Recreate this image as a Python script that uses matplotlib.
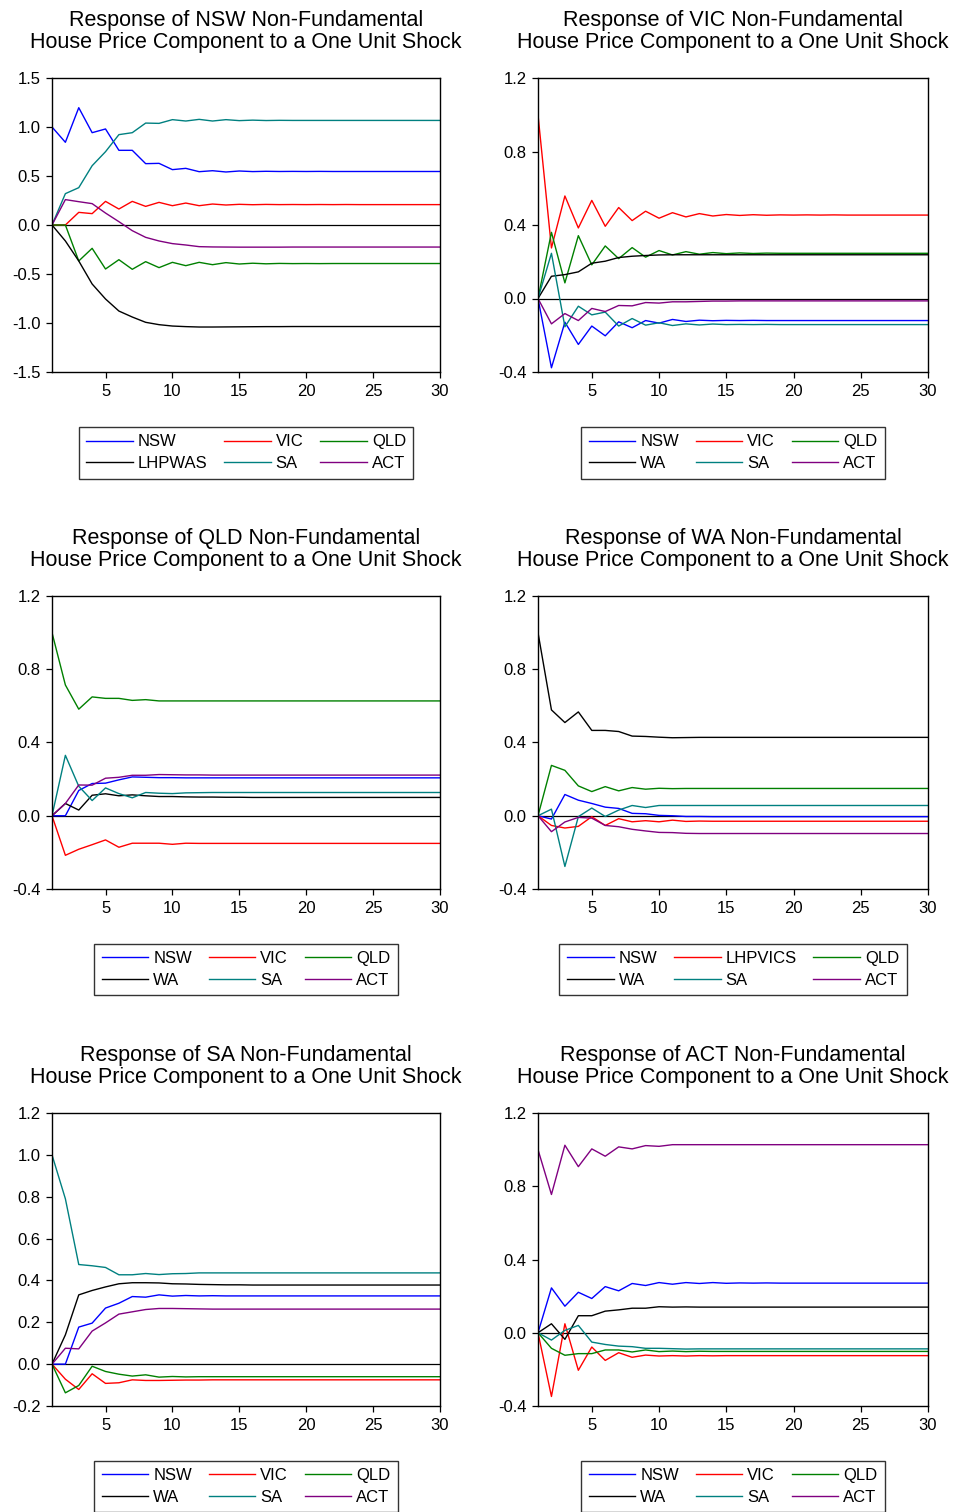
import numpy as np
import matplotlib.pyplot as plt

plt.rcParams['font.family'] = ['Liberation Sans', 'DejaVu Sans']

periods = np.arange(1, 31)

# impulse responses, one dict per shocked state (values by period 1..30)
resp_nsw = {
    'NSW':    [1.0, 0.844, 1.197, 0.942, 0.98, 0.762, 0.762, 0.626, 0.629, 0.565, 0.578, 0.544, 0.554, 0.541, 0.551,
               0.545, 0.548, 0.546, 0.547, 0.546, 0.547, 0.546, 0.546, 0.546, 0.546, 0.546, 0.546, 0.546, 0.546, 0.546],
    'VIC':    [0.0, 0.0, 0.129, 0.116, 0.241, 0.163, 0.241, 0.19, 0.231, 0.197, 0.224, 0.197, 0.214, 0.204, 0.211,
               0.207, 0.21, 0.208, 0.209, 0.208, 0.209, 0.208, 0.209, 0.208, 0.208, 0.208, 0.208, 0.208, 0.208, 0.208],
    'QLD':    [0.0, 0.0, -0.367, -0.238, -0.449, -0.354, -0.452, -0.374, -0.435, -0.381, -0.415, -0.381, -0.405, -0.384, -0.398,
               -0.39, -0.396, -0.392, -0.394, -0.393, -0.394, -0.393, -0.393, -0.393, -0.393, -0.393, -0.393, -0.393, -0.393, -0.393],
    'LHPWAS': [0.0, -0.163, -0.367, -0.602, -0.755, -0.878, -0.939, -0.993, -1.017, -1.031, -1.037, -1.041, -1.041, -1.04, -1.039,
               -1.038, -1.037, -1.037, -1.036, -1.036, -1.036, -1.036, -1.036, -1.036, -1.036, -1.036, -1.036, -1.036, -1.036, -1.036],
    'SA':     [0.0, 0.32, 0.381, 0.605, 0.748, 0.922, 0.942, 1.04, 1.037, 1.075, 1.061, 1.078, 1.061, 1.075, 1.065,
               1.07, 1.066, 1.068, 1.067, 1.067, 1.067, 1.067, 1.067, 1.067, 1.067, 1.067, 1.067, 1.067, 1.067, 1.067],
    'ACT':    [0.0, 0.259, 0.238, 0.218, 0.122, 0.034, -0.058, -0.126, -0.163, -0.19, -0.204, -0.221, -0.224, -0.225, -0.226,
               -0.226, -0.226, -0.226, -0.225, -0.225, -0.225, -0.225, -0.225, -0.225, -0.225, -0.225, -0.225, -0.225, -0.225, -0.225],
}

resp_vic = {
    'NSW': [0.0, -0.377, -0.129, -0.25, -0.15, -0.203, -0.127, -0.159, -0.12, -0.134, -0.114, -0.125, -0.118, -0.121, -0.119,
            -0.12, -0.119, -0.12, -0.12, -0.12, -0.12, -0.12, -0.12, -0.12, -0.12, -0.12, -0.12, -0.12, -0.12, -0.12],
    'VIC': [1.0, 0.275, 0.558, 0.384, 0.534, 0.393, 0.495, 0.424, 0.475, 0.437, 0.467, 0.444, 0.462, 0.449, 0.457,
            0.452, 0.456, 0.453, 0.455, 0.454, 0.455, 0.454, 0.455, 0.454, 0.454, 0.454, 0.454, 0.454, 0.454, 0.454],
    'QLD': [0.0, 0.36, 0.085, 0.342, 0.183, 0.286, 0.217, 0.277, 0.225, 0.261, 0.237, 0.255, 0.241, 0.25, 0.244,
            0.248, 0.245, 0.247, 0.246, 0.246, 0.246, 0.246, 0.246, 0.246, 0.246, 0.246, 0.246, 0.246, 0.246, 0.246],
    'WA':  [0.0, 0.121, 0.13, 0.145, 0.192, 0.203, 0.223, 0.23, 0.234, 0.237, 0.238, 0.238, 0.238, 0.238, 0.238,
            0.238, 0.238, 0.238, 0.238, 0.238, 0.238, 0.238, 0.238, 0.238, 0.238, 0.238, 0.238, 0.238, 0.238, 0.238],
    'SA':  [0.0, 0.246, -0.154, -0.042, -0.089, -0.074, -0.15, -0.109, -0.145, -0.132, -0.147, -0.138, -0.144, -0.139, -0.142,
            -0.141, -0.142, -0.141, -0.142, -0.142, -0.142, -0.142, -0.142, -0.142, -0.142, -0.142, -0.142, -0.142, -0.142, -0.142],
    'ACT': [0.0, -0.138, -0.082, -0.12, -0.054, -0.071, -0.038, -0.04, -0.022, -0.025, -0.018, -0.018, -0.016, -0.014, -0.014,
            -0.013, -0.013, -0.013, -0.013, -0.013, -0.013, -0.013, -0.013, -0.013, -0.013, -0.013, -0.013, -0.013, -0.013, -0.013],
}

resp_qld = {
    'NSW': [0.0, 0.0, 0.138, 0.176, 0.178, 0.196, 0.212, 0.21, 0.208, 0.208, 0.207, 0.207, 0.207, 0.207, 0.207,
            0.207, 0.207, 0.207, 0.207, 0.207, 0.207, 0.207, 0.207, 0.207, 0.207, 0.207, 0.207, 0.207, 0.207, 0.207],
    'VIC': [0.0, -0.216, -0.183, -0.158, -0.132, -0.172, -0.15, -0.15, -0.15, -0.156, -0.15, -0.151, -0.151, -0.151, -0.151,
            -0.151, -0.151, -0.151, -0.151, -0.151, -0.151, -0.151, -0.151, -0.151, -0.151, -0.151, -0.151, -0.151, -0.151, -0.151],
    'QLD': [1.0, 0.714, 0.582, 0.649, 0.641, 0.641, 0.63, 0.634, 0.627, 0.627, 0.627, 0.627, 0.627, 0.627, 0.627,
            0.627, 0.627, 0.627, 0.627, 0.627, 0.627, 0.627, 0.627, 0.627, 0.627, 0.627, 0.627, 0.627, 0.627, 0.627],
    'WA':  [0.0, 0.067, 0.031, 0.112, 0.12, 0.109, 0.114, 0.109, 0.105, 0.105, 0.103, 0.102, 0.102, 0.101, 0.101,
            0.1, 0.1, 0.1, 0.1, 0.1, 0.1, 0.1, 0.1, 0.1, 0.1, 0.1, 0.1, 0.1, 0.1, 0.1],
    'SA':  [0.0, 0.33, 0.161, 0.083, 0.152, 0.121, 0.098, 0.127, 0.123, 0.121, 0.125, 0.126, 0.127, 0.127, 0.127,
            0.127, 0.127, 0.127, 0.127, 0.127, 0.127, 0.127, 0.127, 0.127, 0.127, 0.127, 0.127, 0.127, 0.127, 0.127],
    'ACT': [0.0, 0.067, 0.168, 0.167, 0.205, 0.21, 0.221, 0.221, 0.225, 0.224, 0.223, 0.223, 0.222, 0.222, 0.222,
            0.222, 0.222, 0.222, 0.222, 0.222, 0.222, 0.222, 0.222, 0.222, 0.222, 0.222, 0.222, 0.222, 0.222, 0.222],
}

resp_wa = {
    'NSW':     [0.0, -0.018, 0.116, 0.085, 0.067, 0.047, 0.04, 0.013, 0.011, 0.002, 0.0, -0.004, -0.004, -0.005, -0.005,
                -0.005, -0.005, -0.005, -0.005, -0.005, -0.005, -0.005, -0.005, -0.005, -0.005, -0.005, -0.005, -0.005, -0.005, -0.005],
    'LHPVICS': [0.0, -0.053, -0.067, -0.058, -0.005, -0.053, -0.016, -0.033, -0.027, -0.033, -0.024, -0.031, -0.029, -0.03, -0.03,
                -0.03, -0.03, -0.03, -0.03, -0.03, -0.03, -0.03, -0.03, -0.03, -0.03, -0.03, -0.03, -0.03, -0.03, -0.03],
    'QLD':     [0.0, 0.275, 0.248, 0.163, 0.132, 0.159, 0.136, 0.154, 0.145, 0.15, 0.148, 0.149, 0.149, 0.149, 0.149,
                0.149, 0.149, 0.149, 0.149, 0.149, 0.149, 0.149, 0.149, 0.149, 0.149, 0.149, 0.149, 0.149, 0.149, 0.149],
    'WA':      [1.0, 0.578, 0.509, 0.567, 0.466, 0.466, 0.46, 0.435, 0.433, 0.429, 0.426, 0.427, 0.428, 0.428, 0.428,
                0.428, 0.428, 0.428, 0.428, 0.428, 0.428, 0.428, 0.428, 0.428, 0.428, 0.428, 0.428, 0.428, 0.428, 0.428],
    'SA':      [0.0, 0.036, -0.277, -0.005, 0.042, -0.004, 0.031, 0.056, 0.045, 0.056, 0.056, 0.056, 0.056, 0.056, 0.056,
                0.056, 0.056, 0.056, 0.056, 0.056, 0.056, 0.056, 0.056, 0.056, 0.056, 0.056, 0.056, 0.056, 0.056, 0.056],
    'ACT':     [0.0, -0.087, -0.034, -0.009, -0.013, -0.053, -0.06, -0.074, -0.083, -0.091, -0.092, -0.096, -0.097, -0.097, -0.097,
                -0.097, -0.097, -0.097, -0.097, -0.097, -0.097, -0.097, -0.097, -0.097, -0.097, -0.097, -0.097, -0.097, -0.097, -0.097],
}

resp_sa = {
    'NSW': [0.0, 0.0, 0.177, 0.196, 0.268, 0.291, 0.323, 0.32, 0.331, 0.325, 0.328, 0.326, 0.327, 0.326, 0.326,
            0.326, 0.326, 0.326, 0.326, 0.326, 0.326, 0.326, 0.326, 0.326, 0.326, 0.326, 0.326, 0.326, 0.326, 0.326],
    'VIC': [0.0, -0.072, -0.121, -0.046, -0.092, -0.089, -0.075, -0.078, -0.078, -0.077, -0.076, -0.076, -0.075, -0.075, -0.075,
            -0.075, -0.075, -0.075, -0.075, -0.075, -0.075, -0.075, -0.075, -0.075, -0.075, -0.075, -0.075, -0.075, -0.075, -0.075],
    'QLD': [0.0, -0.137, -0.102, -0.01, -0.035, -0.048, -0.057, -0.051, -0.062, -0.059, -0.061, -0.06, -0.06, -0.06, -0.06,
            -0.06, -0.06, -0.06, -0.06, -0.06, -0.06, -0.06, -0.06, -0.06, -0.06, -0.06, -0.06, -0.06, -0.06, -0.06],
    'WA':  [0.0, 0.14, 0.331, 0.352, 0.369, 0.384, 0.389, 0.389, 0.388, 0.384, 0.383, 0.381, 0.38, 0.379, 0.379,
            0.378, 0.378, 0.378, 0.378, 0.378, 0.378, 0.378, 0.378, 0.378, 0.378, 0.378, 0.378, 0.378, 0.378, 0.378],
    'SA':  [1.0, 0.79, 0.476, 0.47, 0.462, 0.427, 0.427, 0.433, 0.428, 0.432, 0.433, 0.436, 0.436, 0.436, 0.436,
            0.436, 0.436, 0.436, 0.436, 0.436, 0.436, 0.436, 0.436, 0.436, 0.436, 0.436, 0.436, 0.436, 0.436, 0.436],
    'ACT': [0.0, 0.076, 0.073, 0.158, 0.197, 0.239, 0.25, 0.261, 0.266, 0.266, 0.265, 0.264, 0.263, 0.263, 0.263,
            0.263, 0.263, 0.263, 0.263, 0.263, 0.263, 0.263, 0.263, 0.263, 0.263, 0.263, 0.263, 0.263, 0.263, 0.263],
}

resp_act = {
    'NSW': [0.0, 0.245, 0.145, 0.221, 0.187, 0.252, 0.229, 0.269, 0.258, 0.274, 0.265, 0.274, 0.269, 0.274, 0.27,
            0.272, 0.271, 0.272, 0.271, 0.271, 0.271, 0.271, 0.271, 0.271, 0.271, 0.271, 0.271, 0.271, 0.271, 0.271],
    'VIC': [0.0, -0.348, 0.049, -0.205, -0.078, -0.151, -0.109, -0.134, -0.122, -0.127, -0.125, -0.127, -0.125, -0.126, -0.125,
            -0.125, -0.125, -0.125, -0.125, -0.125, -0.125, -0.125, -0.125, -0.125, -0.125, -0.125, -0.125, -0.125, -0.125, -0.125],
    'QLD': [0.0, -0.085, -0.123, -0.114, -0.114, -0.094, -0.094, -0.105, -0.094, -0.103, -0.1, -0.103, -0.101, -0.102, -0.102,
            -0.102, -0.102, -0.102, -0.102, -0.102, -0.102, -0.102, -0.102, -0.102, -0.102, -0.102, -0.102, -0.102, -0.102, -0.102],
    'WA':  [0.0, 0.049, -0.036, 0.093, 0.093, 0.118, 0.125, 0.134, 0.134, 0.142, 0.14, 0.141, 0.14, 0.14, 0.14,
            0.14, 0.14, 0.14, 0.14, 0.14, 0.14, 0.14, 0.14, 0.14, 0.14, 0.14, 0.14, 0.14, 0.14, 0.14],
    'SA':  [0.0, -0.04, 0.013, 0.04, -0.051, -0.064, -0.073, -0.076, -0.085, -0.085, -0.087, -0.089, -0.088, -0.088, -0.088,
            -0.088, -0.088, -0.088, -0.088, -0.088, -0.088, -0.088, -0.088, -0.088, -0.088, -0.088, -0.088, -0.088, -0.088, -0.088],
    'ACT': [1.0, 0.755, 1.024, 0.907, 1.004, 0.964, 1.015, 1.004, 1.022, 1.018, 1.027, 1.027, 1.027, 1.027, 1.027,
            1.027, 1.027, 1.027, 1.027, 1.027, 1.027, 1.027, 1.027, 1.027, 1.027, 1.027, 1.027, 1.027, 1.027, 1.027],
}

# slot order: NSW, VIC, QLD, WA, SA, ACT
slot_colors = ['#0000ff', '#ff0000', '#008000', '#000000', '#008080', '#800080']

panels = [
    ('NSW', resp_nsw, ['NSW', 'VIC', 'QLD', 'LHPWAS', 'SA', 'ACT'], (-1.5, 1.5), [-1.5, -1.0, -0.5, 0.0, 0.5, 1.0, 1.5]),
    ('VIC', resp_vic, ['NSW', 'VIC', 'QLD', 'WA', 'SA', 'ACT'], (-0.4, 1.2), [-0.4, 0.0, 0.4, 0.8, 1.2]),
    ('QLD', resp_qld, ['NSW', 'VIC', 'QLD', 'WA', 'SA', 'ACT'], (-0.4, 1.2), [-0.4, 0.0, 0.4, 0.8, 1.2]),
    ('WA', resp_wa, ['NSW', 'LHPVICS', 'QLD', 'WA', 'SA', 'ACT'], (-0.4, 1.2), [-0.4, 0.0, 0.4, 0.8, 1.2]),
    ('SA', resp_sa, ['NSW', 'VIC', 'QLD', 'WA', 'SA', 'ACT'], (-0.2, 1.2), [-0.2, 0.0, 0.2, 0.4, 0.6, 0.8, 1.0, 1.2]),
    ('ACT', resp_act, ['NSW', 'VIC', 'QLD', 'WA', 'SA', 'ACT'], (-0.4, 1.2), [-0.4, 0.0, 0.4, 0.8, 1.2]),
]

W, H = 963, 1512
fig = plt.figure(figsize=(W / 100, H / 100), dpi=100)

col_x = [(52, 388), (538, 390)]
row_y = [(78, 372), (596, 889), (1113, 1406)]

for i, (state, data, labels, ylim, yticks) in enumerate(panels):
    cx, cw = col_x[i % 2]
    ytop, ybot = row_y[i // 2]
    ax = fig.add_axes([cx / W, 1 - ybot / H, cw / W, (ybot - ytop) / H])

    ax.axhline(0, color='black', lw=0.9, zorder=1)
    lines = []
    for lab, col in zip(labels, slot_colors):
        ln, = ax.plot(periods, data[lab], color=col, lw=1.0, label=lab, zorder=2)
        lines.append(ln)

    ax.set_xlim(1, 30)
    ax.set_ylim(*ylim)
    ax.set_xticks([5, 10, 15, 20, 25, 30])
    ax.set_yticks(yticks)
    ax.set_yticklabels([f'{t:.1f}' for t in yticks])
    ax.tick_params(direction='out', length=4.3, width=0.9, labelsize=12, pad=4)
    for sp in ax.spines.values():
        sp.set_linewidth(1.0)

    ax.set_title(f'Response of {state} Non-Fundamental\nHouse Price Component to a One Unit Shock',
                 fontsize=15.5, pad=21.5, linespacing=1.1)

    # column-wise fill gives rows: NSW VIC QLD / WA SA ACT
    order = [0, 3, 1, 4, 2, 5]
    leg = ax.legend([lines[k] for k in order], [labels[k] for k in order],
                    ncol=3, loc='upper center', bbox_to_anchor=(0.5, -0.187),
                    fontsize=12, frameon=True, fancybox=False, edgecolor='black',
                    handlelength=2.8, handletextpad=0.3, columnspacing=1.0,
                    labelspacing=0.4, borderpad=0.45, borderaxespad=0)
    leg.get_frame().set_linewidth(1.0)

fig.savefig('out.png', dpi=100)
